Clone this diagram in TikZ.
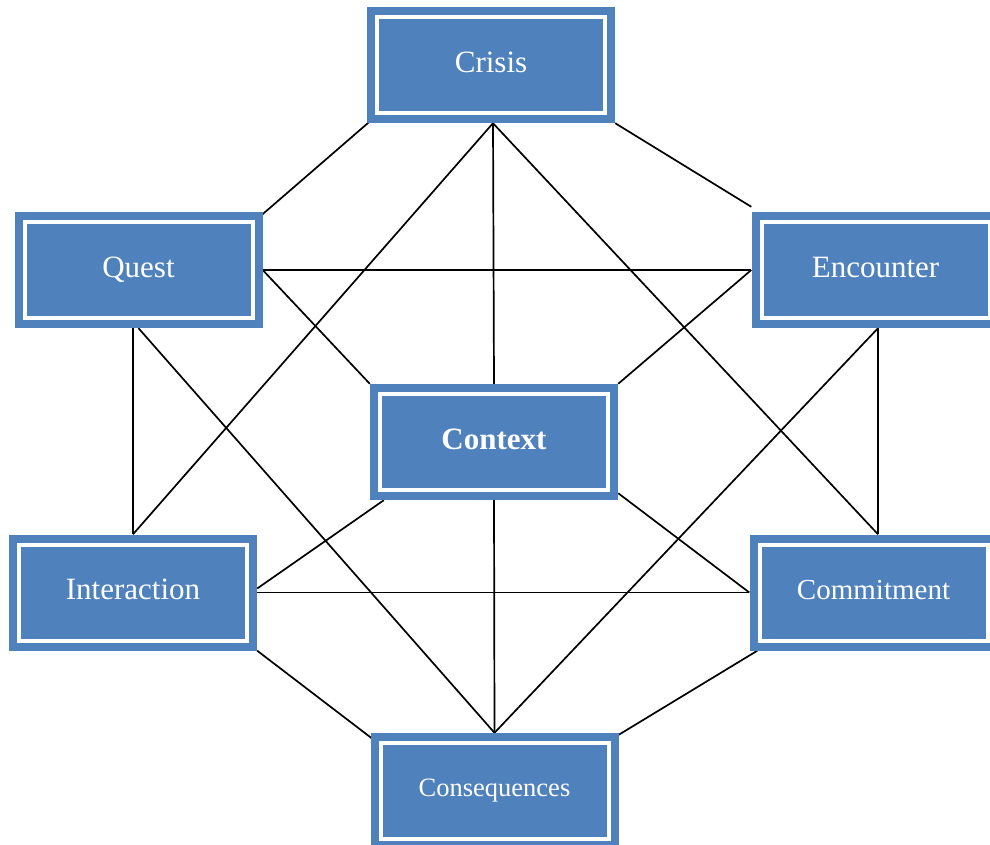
\documentclass[tikz,border=0pt]{standalone}
\usepackage{fontspec}
\setmainfont{Liberation Serif}
\usetikzlibrary{backgrounds}
\definecolor{boxblue}{RGB}{79,129,189}
\tikzset{
  stagebox/.style={
    fill=boxblue, draw=none, inner sep=0pt,
    minimum width=248pt, minimum height=116pt,
    text=white, text height=22pt, text depth=7.5pt,
    font=\fontsize{31}{36}\selectfont,
    path picture={
      \draw[white, line width=4pt]
        ([shift={(10pt,10pt)}]path picture bounding box.south west)
        rectangle
        ([shift={(-10pt,-10pt)}]path picture bounding box.north east);
    }
  },
  link/.style={draw=black, line width=1.7pt}
}
\begin{document}
\begin{tikzpicture}[x=1pt, y=-1pt]
  \useasboundingbox (0,0) rectangle (990,845);
  \clip (0,0) rectangle (990,845);

  % the seven stages
  \node[stagebox] (crisis)       at (491,65)    {Crisis};
  \node[stagebox] (quest)        at (138.5,270) {Quest};
  \node[stagebox] (encounter)    at (875.5,270) {Encounter};
  \node[stagebox, font=\fontsize{31}{36}\selectfont\bfseries] (context) at (494,442) {Context};
  \node[stagebox] (interaction)  at (133,592.5) {Interaction};
  \node[stagebox, font=\fontsize{29}{34}\selectfont, text depth=9pt] (commitment) at (873.5,592.5) {Commitment};
  \node[stagebox, font=\fontsize{26.5}{31}\selectfont, text depth=11pt] (consequences) at (494.5,791) {Consequences};

  % connections, drawn behind the boxes
  \begin{scope}[on background layer]
    \draw[link] ([shift={(16pt,13pt)}]crisis.south west) -- ([shift={(-10pt,-11pt)}]quest.north east);
    \draw[link] (crisis.south east) -- ([yshift=5pt]encounter.north west);
    \draw[link] ([xshift=2pt]crisis.south) -- (context.north);
    \draw[link] ([xshift=2pt]crisis.south) -- (interaction.north);
    \draw[link] ([xshift=2pt]crisis.south) -- ([xshift=4.5pt]commitment.north);
    \draw[link] (quest.east) -- (encounter.west);
    \draw[link] (quest.east) -- (context.north west);
    \draw[link] (encounter.west) -- (context.north east);
    \draw[link] ([xshift=-5.5pt]quest.south) -- (interaction.north);
    \draw[link] (quest.south) -- (consequences.north);
    \draw[link] ([xshift=2.5pt]encounter.south) -- ([xshift=4.5pt]commitment.north);
    \draw[link] ([xshift=2.5pt]encounter.south) -- (consequences.north);
    \draw[link] ([xshift=14pt]context.south west) -- ([yshift=4pt]interaction.east);
    \draw[link] ([yshift=7pt]context.south east) -- (commitment.west);
    \draw[link] (context.south) -- (consequences.north);
    \draw[link] (interaction.east) -- (commitment.west);
    \draw[link] (interaction.south east) -- ([shift={(10pt,-12pt)}]consequences.north west);
    \draw[link] ([xshift=8pt]commitment.south west) -- ([yshift=-2pt]consequences.north east);
  \end{scope}
\end{tikzpicture}
\end{document}
